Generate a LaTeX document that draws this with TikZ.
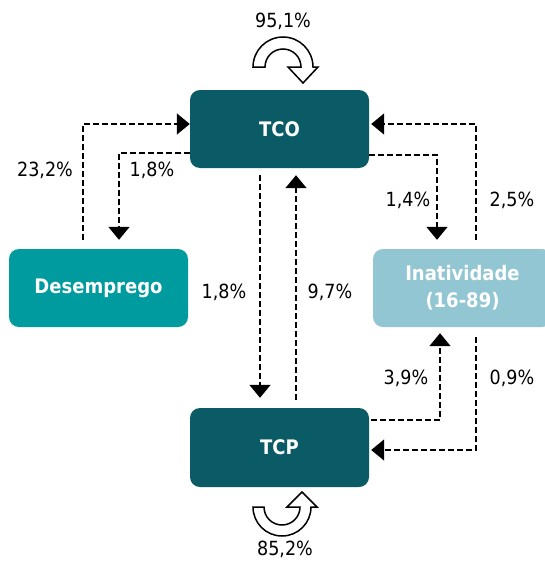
\documentclass[tikz,border=0pt]{standalone}
\usepackage{fontspec}
\setmainfont{DejaVu Sans Condensed}
\usetikzlibrary{arrows.meta}
\definecolor{tcocol}{HTML}{0B5B67}
\definecolor{descol}{HTML}{009B9E}
\definecolor{inatcol}{HTML}{93C6D3}
\tikzset{
  box/.style={rounded corners=10pt, minimum width=179pt, minimum height=78pt, inner sep=0pt,
    text=white, font=\fontsize{20}{27}\selectfont\bfseries, align=center},
  flow/.style={draw=black, line width=1.8pt, dash pattern=on 5.5pt off 3.5pt,
    -{Triangle[width=21pt,length=13pt]}},
  pct/.style={font=\fontsize{19.5}{23}\selectfont, inner sep=0pt},
  uturn/.style={draw=black, line width=1.5pt, fill=white, line join=miter}
}
\begin{document}
\begin{tikzpicture}[x=1pt,y=-1pt]
\clip (0,0) rectangle (545,562);
\fill[white] (0,0) rectangle (545,562);
\node[box, fill=tcocol] (tco) at (279.5,129) {TCO};
\node[box, fill=descol] (desemp) at (98.5,288) {Desemprego};
\node[box, fill=inatcol] (inat) at (462.5,288) {Inatividade\\(16-89)};
\node[box, fill=tcocol, minimum height=79pt] (tcp) at (279.5,447.5) {TCP};
% connectors
\draw[flow] ([xshift=-15.5pt,yshift=9pt]desemp.north) |- ([yshift=5pt]tco.west);
\draw[flow] ([yshift=-24pt]tco.west) -| ([xshift=20.5pt,yshift=9pt]desemp.north);
\draw[flow] ([xshift=-19.5pt,yshift=-7pt]tco.south) -- ([xshift=-19.5pt,yshift=10pt]tcp.north);
\draw[flow] ([xshift=16.5pt,yshift=8pt]tcp.north) -- ([xshift=16.5pt,yshift=-7pt]tco.south);
\draw[flow] ([yshift=-26pt]tco.east) -| ([xshift=-25.5pt,yshift=9pt]inat.north);
\draw[flow] ([xshift=13.5pt,yshift=9pt]inat.north) |- ([xshift=2pt,yshift=5pt]tco.east);
\draw[flow] ([xshift=2pt,yshift=27.5pt]tcp.east) -| ([xshift=-22.5pt,yshift=-6pt]inat.south);
\draw[flow] ([xshift=13.5pt,yshift=-10pt]inat.south) |- ([xshift=2pt,yshift=-2.5pt]tcp.east);
% labels
\node[pct] (l1) at (283,21) {95,1\%};
\node[pct] (l2) at (45,170) {23,2\%};
\node[pct] (l3) at (152,170) {1,8\%};
\node[pct] (l4) at (224,292) {1,8\%};
\node[pct] (l5) at (330,292) {9,7\%};
\node[pct] (l6) at (408,200) {1,4\%};
\node[pct] (l7) at (512,200) {2,5\%};
\node[pct] (l8) at (406,378) {3,9\%};
\node[pct] (l9) at (512,378) {0,9\%};
\node[pct] (l10) at (285,549) {85,2\%};
% u-turn arrows
\path[uturn] (253,67) arc[start angle=180,end angle=360,radius=30] -- (318,67) -- (303,83) -- (288,67) -- (301,67)
  arc[start angle=360,end angle=180,radius=18] -- cycle;
\path[uturn] (253,507) arc[start angle=180,end angle=0,radius=29] -- (317,507) -- (302,492) -- (287,507) -- (300,507)
  arc[start angle=0,end angle=180,radius=18] -- cycle;
\end{tikzpicture}
\end{document}
